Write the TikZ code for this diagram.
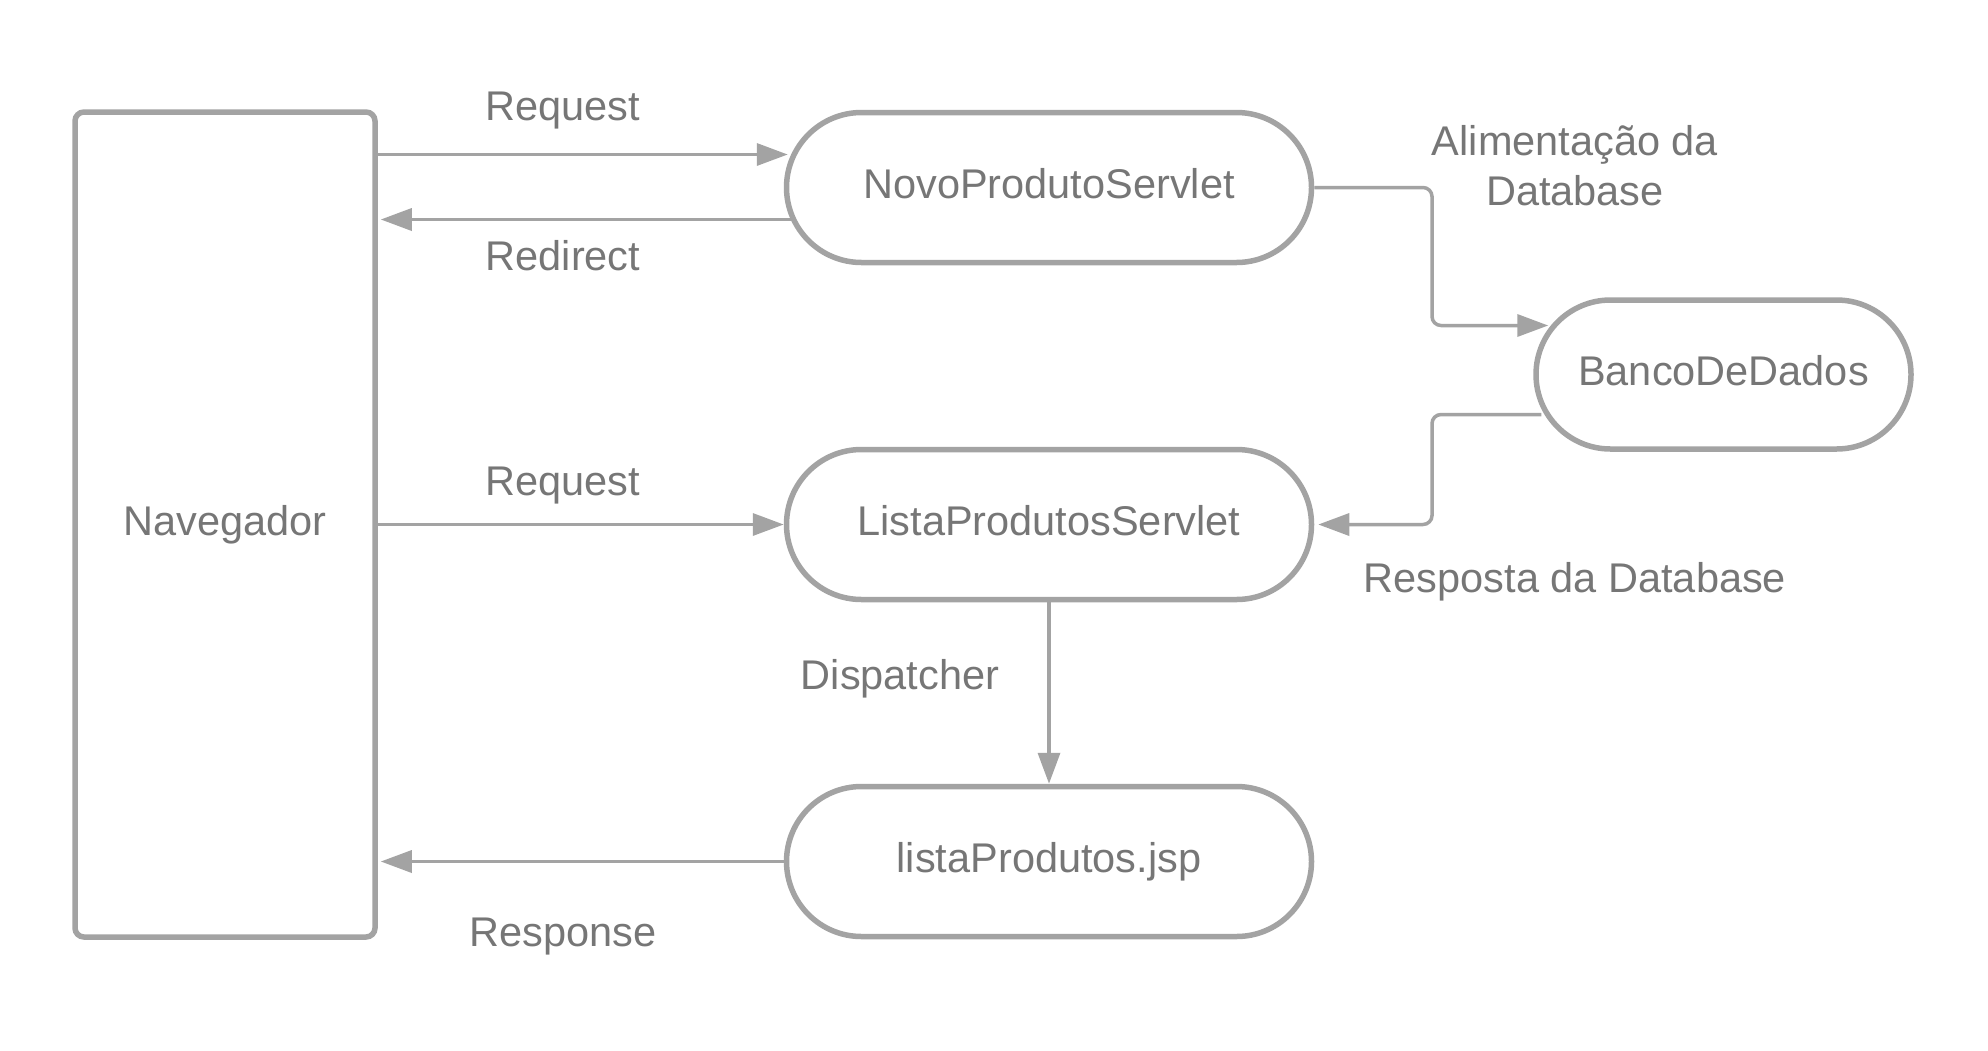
\documentclass[tikz,border=0pt]{standalone}
\usepackage{fontspec}
\setmainfont{Liberation Sans}
\usetikzlibrary{arrows.meta,shapes.misc,calc}
\definecolor{lineC}{RGB}{163,163,163}
\definecolor{textC}{RGB}{118,118,118}
\tikzset{
  txt/.style={text=textC,font=\fontsize{41.5pt}{50pt}\selectfont,text height=30pt,text depth=9pt},
  box/.style={txt,draw=lineC,line width=5.5pt,rounded corners=9pt,minimum width=300pt,minimum height=825pt,inner sep=0pt},
  pill/.style={txt,draw=lineC,line width=5.5pt,rounded rectangle,minimum width=525pt,minimum height=150pt,inner sep=0pt},
  conn/.style={draw=lineC,line width=3.5pt,-{Triangle[length=31pt,width=22pt]},rounded corners=9pt},
  lbl/.style={txt,inner sep=0pt,align=center}
}
\begin{document}
\begin{tikzpicture}[x=1pt,y=-1pt]
\useasboundingbox (0,0) rectangle (1988,1050);
\node[box] (nav) at (225,524.5) {Navegador};
\node[pill] (novo) at (1049,187.5) {NovoProdutoServlet};
\node[pill] (lista) at (1049,524.5) {ListaProdutosServlet};
\node[pill] (jsp) at (1049,861.5) {listaProdutos.jsp};
\node[pill,minimum width=375pt,minimum height=149pt] (banco) at (1723.5,374.5) {BancoDeDados};
% Request 1
\draw[conn] ([yshift=33pt]nav.east |- novo.west) -- ([xshift=4pt,yshift=33pt]novo.west);
% Redirect
\draw[conn] ([xshift=7pt,yshift=-32pt]novo.west) -- ([xshift=3pt,yshift=-32pt]nav.east |- novo.west);
% Request 2
\draw[conn] (nav.east |- lista.west) -- (lista.west);
% Response
\draw[conn] (jsp.west) -- ([xshift=3pt]nav.east |- jsp.west);
% Dispatcher
\draw[conn] (lista.south) -- (jsp.north);
% Alimentacao
\coordinate (bx) at (1432,0);
\draw[conn] (novo.east) -- (bx |- novo.east) -- ($(bx |- banco.west)+(0,-49)$) -- ($(banco.west)+(15,-49)$);
% Resposta
\draw[conn] ($(banco.west)+(8,40)$) -- ($(bx |- banco.west)+(0,40)$) -- (bx |- lista.east) -- ([xshift=4pt]lista.east);
% labels
\node[lbl] (l1) at (563,110) {Request};
\node[lbl] (l2) at (563,260) {Redirect};
\node[lbl] (l3) at (563,485) {Request};
\node[lbl] (l4) at (563,935.5) {Response};
\node[lbl] (l5) at (900,679) {Dispatcher};
\node[lbl] (l6) at (1575,195) {Alimentação da\\Database};
\node[lbl] (l7) at (1575,582) {Resposta da Database};
\end{tikzpicture}
\end{document}
